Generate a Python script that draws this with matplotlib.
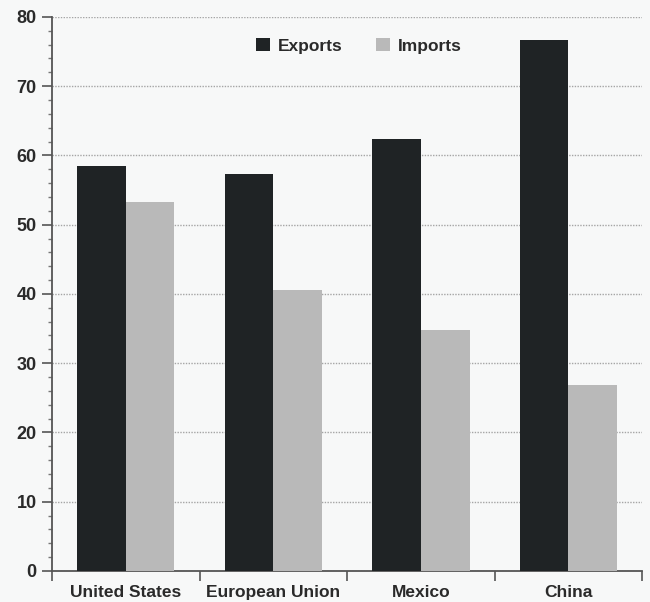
import numpy as np
import matplotlib.pyplot as plt
from matplotlib.ticker import MultipleLocator, FixedLocator

# Trade shares by partner
countries = ["United States", "European Union", "Mexico", "China"]
exports = [58.5, 57.3, 62.4, 76.6]
imports = [53.3, 40.6, 34.8, 26.8]

plt.rcParams['font.family'] = ['Liberation Sans Narrow', 'Liberation Sans', 'DejaVu Sans']

fig = plt.figure(figsize=(6.5, 6.02), dpi=100, facecolor="#f7f8f8")
ax = fig.add_axes([0.08, 0.0515, 0.908, 0.9205])
ax.set_facecolor("#f7f8f8")

x = np.arange(len(countries))
w = 0.33
ax.bar(x - w / 2, exports, w, color="#1f2325", label="Exports", zorder=3)
ax.bar(x + w / 2, imports, w, color="#b9b9b9", label="Imports", zorder=3)

ax.set_xlim(-0.5, 3.5)
ax.set_ylim(0, 80)

# y axis: labelled every 10, small ticks every 2
ax.yaxis.set_major_locator(MultipleLocator(10))
ax.yaxis.set_minor_locator(MultipleLocator(2))
ax.tick_params(axis="y", which="major", length=7, width=1.2, color="#555555",
               labelsize=13, pad=4, labelcolor="#2a2a2a")
ax.tick_params(axis="y", which="minor", length=3, width=1, color="#777777")
for lbl in ax.get_yticklabels():
    lbl.set_fontweight("bold")

# x axis: ticks between groups, labels under each group
ax.xaxis.set_major_locator(FixedLocator([-0.5, 0.5, 1.5, 2.5, 3.5]))
ax.xaxis.set_major_formatter(plt.NullFormatter())
ax.xaxis.set_minor_locator(FixedLocator(x))
ax.set_xticklabels(countries, minor=True)
ax.tick_params(axis="x", which="major", length=7, width=1.2, color="#555555")
ax.tick_params(axis="x", which="minor", length=0, labelsize=12.5, pad=10,
               labelcolor="#2a2a2a")
for lbl in ax.get_xticklabels(minor=True):
    lbl.set_fontweight("bold")

ax.grid(axis="y", which="major", color="#a5a5a5", linestyle=(0, (1, 1)),
        linewidth=1, zorder=0)

for side in ("top", "right"):
    ax.spines[side].set_visible(False)
for side in ("left", "bottom"):
    ax.spines[side].set_color("#555555")
    ax.spines[side].set_linewidth(1.3)

leg = ax.legend(loc="upper center", bbox_to_anchor=(0.52, 0.99), ncol=2,
                frameon=False, fontsize=12.5, handlelength=0.8,
                handleheight=0.8, handletextpad=0.45, columnspacing=1.9)
for t in leg.get_texts():
    t.set_color("#2a2a2a")
    t.set_fontweight("bold")

fig.savefig("out.png", dpi=100, facecolor=fig.get_facecolor())
